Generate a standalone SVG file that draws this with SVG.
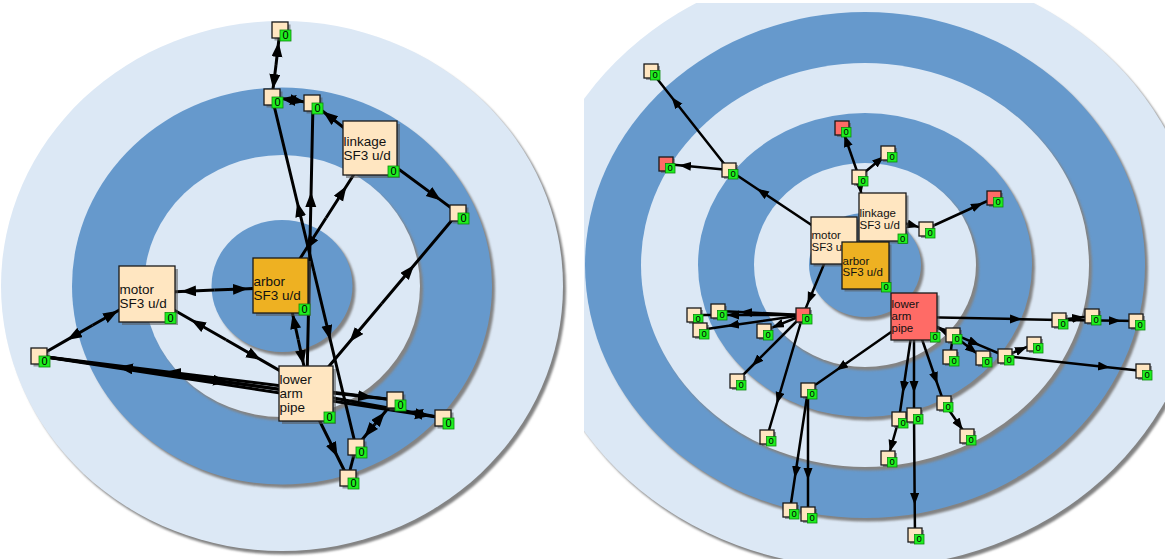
<svg xmlns="http://www.w3.org/2000/svg" width="1165" height="559" viewBox="0 0 1165 559">
<style>
.lt{fill:#dce8f5}
.dk{fill:#6699cc}
.rs{fill:#838383;filter:url(#sb)}
.s{fill:#555;opacity:.55}
.nb{fill:#ffe6c1;stroke:#1a1a1a;stroke-width:1.3}
.or{fill:#eeb122;stroke:#1a1a1a;stroke-width:1.3}
.rd{fill:#ff6b66;stroke:#1a1a1a;stroke-width:1.3}
.bg{fill:#1fee1f;stroke:#0c8a0c;stroke-width:.8}
.z1{font-family:"Liberation Sans",Arial,sans-serif;font-size:11px;text-anchor:middle;fill:#000}
.z2{font-family:"Liberation Sans",Arial,sans-serif;font-size:9.5px;text-anchor:middle;fill:#000}
.t1{font-family:"Liberation Sans",Arial,sans-serif;font-size:13.5px;fill:#111}
.t2{font-family:"Liberation Sans",Arial,sans-serif;font-size:11.5px;fill:#111}
.e{fill:none;stroke:#000;stroke-width:3;marker-mid:url(#hl)}
.e2{fill:none;stroke:#000;stroke-width:2.5;marker-mid:url(#hr)}
.p2{fill:none;stroke:#000;stroke-width:2.5}
.p1{fill:none;stroke:#000;stroke-width:3}
</style>
<defs>
<filter id="sb" x="-5%" y="-5%" width="110%" height="110%"><feGaussianBlur stdDeviation="1.3"/></filter>
<clipPath id="rc"><rect x="584" y="3" width="581" height="556"/></clipPath>
<marker id="hl" markerUnits="userSpaceOnUse" markerWidth="16" markerHeight="12" refX="15" refY="5.5" orient="auto"><path d="M0,0 L15,5.5 L0,11 z" fill="#000"/></marker>
<marker id="hr" markerUnits="userSpaceOnUse" markerWidth="13" markerHeight="10" refX="12" refY="4.5" orient="auto"><path d="M0,0 L12,4.5 L0,9 z" fill="#000"/></marker>
</defs>
<rect width="1165" height="559" fill="#fff"/>
<g id="rings-left">
<ellipse class="rs" cx="285" cy="289.5" rx="281" ry="265"/>
<ellipse class="lt" cx="282" cy="286" rx="281" ry="265"/>
<ellipse class="rs" cx="285" cy="289.5" rx="210" ry="198.5"/>
<ellipse class="dk" cx="282" cy="286" rx="210" ry="198.5"/>
<ellipse class="rs" cx="285" cy="289.5" rx="138" ry="131"/>
<ellipse class="lt" cx="282" cy="286" rx="138" ry="131"/>
<ellipse class="rs" cx="285" cy="289.5" rx="70.5" ry="66"/>
<ellipse class="dk" cx="282" cy="286" rx="70.5" ry="66"/>
</g>
<g id="rings-right" clip-path="url(#rc)">
<ellipse class="rs" cx="868" cy="268.5" rx="336" ry="303"/>
<ellipse class="lt" cx="865" cy="265" rx="336" ry="303"/>
<ellipse class="rs" cx="868" cy="268.5" rx="280" ry="253"/>
<ellipse class="dk" cx="865" cy="265" rx="280" ry="253"/>
<ellipse class="rs" cx="868" cy="268.5" rx="224" ry="202"/>
<ellipse class="lt" cx="865" cy="265" rx="224" ry="202"/>
<ellipse class="rs" cx="868" cy="268.5" rx="167" ry="152"/>
<ellipse class="dk" cx="865" cy="265" rx="167" ry="152"/>
<ellipse class="rs" cx="868" cy="268.5" rx="111" ry="102"/>
<ellipse class="lt" cx="865" cy="265" rx="111" ry="102"/>
<ellipse class="rs" cx="868" cy="268.5" rx="56" ry="52"/>
<ellipse class="dk" cx="865" cy="265" rx="56" ry="52"/>
</g>
<g id="connectors">
<path class="e" d="M276,65 L278.6,42 L280,30"/>
<path class="e" d="M276,65 L273,89 L272,97"/>
<path class="e" d="M293,100 L281,98.4 L272,97"/>
<path class="e" d="M293,100 L305,101.9 L312,103"/>
<path class="e" d="M370,148 L323,111.5 L312,103"/>
<path class="e" d="M370,148 L441,200.4 L458,213"/>
<path class="e" d="M381.8,303.5 L414.2,265 L458,213"/>
<path class="e" d="M381.8,303.5 L349.4,342 L306,393.5"/>
<path class="e" d="M313.8,271 L297.2,202 L272,97"/>
<path class="e" d="M313.8,271 L330.3,340 L356,447"/>
<path class="e" d="M307,380 L311.1,192 L313,103"/>
<path class="e" d="M326,218 L346.5,186 L358,168"/>
<path class="e" d="M326,218 L305.5,250 L287,279"/>
<path class="e" d="M214.5,290.1 L181,291.6 L150,293"/>
<path class="e" d="M214.5,290.1 L248,288.7 L275,287.6"/>
<path class="e" d="M92.5,325.3 L67,339.9 L39,356"/>
<path class="e" d="M92.5,325.3 L118,310.7 L147,294"/>
<path class="e" d="M226,339.8 L191,319.8 L147,294.5"/>
<path class="e" d="M226,339.8 L261,359.9 L306,385.8"/>
<path class="e" d="M39,356 L228,382.2 L306,393"/>
<path class="e" d="M306,393 L118,366.9 L39,356"/>
<path class="e" d="M395,400 L166,371.7 L39,356"/>
<path class="e" d="M39,356 L430,416 L443,418"/>
<path class="e" d="M306,390 L373,397.5 L395,400"/>
<path class="e" d="M443,418 L408,411.6 L306,393"/>
<path class="e" d="M374.7,424.5 L385,412 L395,400"/>
<path class="e" d="M374.7,424.5 L364.3,437 L356,447"/>
<path class="e" d="M306,393.5 L337.6,457 L348,478"/>
<path class="p1" d="M356,447 L348,478"/>
<path class="e" d="M298.2,339.5 L292.6,314 L287.7,290"/>
<path class="e" d="M298.2,339.5 L303.7,365 L307,380"/>
<path class="e2" d="M729,170 L671.5,97 L651,71"/>
<path class="e2" d="M729,170 L679,165.2 L666,164"/>
<path class="e2" d="M834,240 L757,188.7 L729,170"/>
<path class="e2" d="M859,177 L844.4,135 L842,128"/>
<path class="e2" d="M859,177 L884,156.3 L888,153"/>
<path class="e2" d="M859,177 L861.2,194 L862,200"/>
<path class="e2" d="M882.5,217 L919,227.1 L926,229"/>
<path class="e2" d="M926,229 L983,203 L994,198"/>
<path class="e2" d="M834,240 L807.5,304 L803,315"/>
<path class="e2" d="M803,315 L727,315 L694,315"/>
<path class="e2" d="M803,315 L740,312 L718,311"/>
<path class="e2" d="M803,315 L727,326 L700,330"/>
<path class="e2" d="M803,315 L772,327.7 L764,331"/>
<path class="e2" d="M803,315 L752,366 L737,381"/>
<path class="e2" d="M803,315 L776.7,404 L767,437"/>
<path class="e2" d="M914,316 L836,370.5 L808,390"/>
<path class="e2" d="M808,390 L794.8,478 L790,510"/>
<path class="e2" d="M808,390 L808,480 L808,514"/>
<path class="e2" d="M914,316 L902.8,393 L899,419"/>
<path class="e2" d="M914,316 L914,393 L914,415"/>
<path class="e2" d="M899,419 L889.7,452 L888,458"/>
<path class="e2" d="M914,415 L914.7,505 L915,535"/>
<path class="e2" d="M914,316 L937.4,384 L944,403"/>
<path class="e2" d="M944,403 L962.8,430 L967,436"/>
<path class="e2" d="M914,317 L1022,319.2 L1059,320"/>
<path class="e2" d="M1059,320 L1084,317 L1092,316"/>
<path class="e2" d="M1059,320 L1121,320.8 L1136,321"/>
<path class="e2" d="M953,335 L938,328.1 L914,317"/>
<path class="e2" d="M914,317 L980,345.3 L1005,356"/>
<path class="e2" d="M953,335 L977,353.4 L983,358"/>
<path class="e2" d="M1005,356 L1027,346.9 L1034,344"/>
<path class="e2" d="M1005,356 L1110,367.4 L1143,371"/>
<path class="p2" d="M953,335 L950,357"/>
</g>
<g id="L-motor"><rect class="s" x="122" y="269" width="56" height="56"/><rect class="nb" x="119" y="266" width="56" height="56"/><text class="t1" x="119.5" y="293.5">motor</text><text class="t1" x="119.5" y="307.5">SF3 u/d</text><rect class="bg" x="165" y="312.5" width="11" height="11"/><text class="z1" x="170.5" y="321.8">0</text></g>
<g id="L-arbor"><rect class="s" x="256" y="261" width="55" height="55"/><rect class="or" x="253" y="258" width="55" height="55"/><text class="t1" x="253.5" y="285.5">arbor</text><text class="t1" x="253.5" y="299.5">SF3 u/d</text><rect class="bg" x="299" y="304" width="11" height="11"/><text class="z1" x="304.5" y="313.3">0</text></g>
<g id="L-linkage"><rect class="s" x="346" y="124" width="54" height="54"/><rect class="nb" x="343" y="121" width="54" height="54"/><text class="t1" x="343.5" y="145.5">linkage</text><text class="t1" x="343.5" y="159.5">SF3 u/d</text><rect class="bg" x="388" y="166" width="11" height="11"/><text class="z1" x="393.5" y="175.3">0</text></g>
<g id="L-lowerarmpipe"><rect class="s" x="282" y="369" width="54" height="55"/><rect class="nb" x="279" y="366" width="54" height="55"/><text class="t1" x="279.5" y="384">lower</text><text class="t1" x="279.5" y="398">arm</text><text class="t1" x="279.5" y="412">pipe</text><rect class="bg" x="324" y="412" width="11" height="11"/><text class="z1" x="329.5" y="421.3">0</text></g>
<g id="L-n1"><rect class="s" x="274.5" y="24.5" width="16" height="16"/><rect class="nb" x="272" y="22" width="16" height="16"/><rect class="bg" x="280" y="30" width="11" height="11"/><text class="z1" x="285.5" y="39.3">0</text></g>
<g id="L-n2"><rect class="s" x="266.5" y="91.5" width="16" height="16"/><rect class="nb" x="264" y="89" width="16" height="16"/><rect class="bg" x="272" y="97" width="11" height="11"/><text class="z1" x="277.5" y="106.3">0</text></g>
<g id="L-n3"><rect class="s" x="306.5" y="97.5" width="16" height="16"/><rect class="nb" x="304" y="95" width="16" height="16"/><rect class="bg" x="312" y="103" width="11" height="11"/><text class="z1" x="317.5" y="112.3">0</text></g>
<g id="L-n4"><rect class="s" x="452.5" y="207.5" width="16" height="16"/><rect class="nb" x="450" y="205" width="16" height="16"/><rect class="bg" x="458" y="213" width="11" height="11"/><text class="z1" x="463.5" y="222.3">0</text></g>
<g id="L-n5"><rect class="s" x="33.5" y="350.5" width="16" height="16"/><rect class="nb" x="31" y="348" width="16" height="16"/><rect class="bg" x="39" y="356" width="11" height="11"/><text class="z1" x="44.5" y="365.3">0</text></g>
<g id="L-n6"><rect class="s" x="389.5" y="394.5" width="16" height="16"/><rect class="nb" x="387" y="392" width="16" height="16"/><rect class="bg" x="395" y="400" width="11" height="11"/><text class="z1" x="400.5" y="409.3">0</text></g>
<g id="L-n7"><rect class="s" x="437.5" y="412.5" width="16" height="16"/><rect class="nb" x="435" y="410" width="16" height="16"/><rect class="bg" x="443" y="418" width="11" height="11"/><text class="z1" x="448.5" y="427.3">0</text></g>
<g id="L-n8"><rect class="s" x="350.5" y="441.5" width="16" height="16"/><rect class="nb" x="348" y="439" width="16" height="16"/><rect class="bg" x="356" y="447" width="11" height="11"/><text class="z1" x="361.5" y="456.3">0</text></g>
<g id="L-n9"><rect class="s" x="342.5" y="472.5" width="16" height="16"/><rect class="nb" x="340" y="470" width="16" height="16"/><rect class="bg" x="348" y="478" width="11" height="11"/><text class="z1" x="353.5" y="487.3">0</text></g>
<g id="R-motor"><rect class="s" x="813.5" y="219.5" width="46" height="47"/><rect class="nb" x="811" y="217" width="46" height="47"/><text class="t2" x="811.5" y="239.3">motor</text><text class="t2" x="811.5" y="250.8">SF3 u/d</text></g>
<g id="R-linkage"><rect class="s" x="861.5" y="195.5" width="47" height="48"/><rect class="nb" x="859" y="193" width="47" height="48"/><text class="t2" x="859.5" y="216.7">linkage</text><text class="t2" x="859.5" y="229.3">SF3 u/d</text><rect class="bg" x="898" y="234" width="9.5" height="9.5"/><text class="z2" x="902.75" y="241.9">0</text></g>
<g id="R-arbor"><rect class="s" x="844.5" y="244.5" width="47" height="47"/><rect class="or" x="842" y="242" width="47" height="47"/><text class="t2" x="842.5" y="264.6">arbor</text><text class="t2" x="842.5" y="276.3">SF3 u/d</text><rect class="bg" x="881.5" y="282.5" width="9.5" height="9.5"/><text class="z2" x="886.25" y="290.4">0</text></g>
<g id="R-lowerarmpipe"><rect class="s" x="893.5" y="295.5" width="46" height="47"/><rect class="rd" x="891" y="293" width="46" height="47"/><text class="t2" x="891.5" y="308.3">lower</text><text class="t2" x="891.5" y="320">arm</text><text class="t2" x="891.5" y="331.7">pipe</text><rect class="bg" x="930.5" y="332.5" width="9.5" height="9.5"/><text class="z2" x="935.25" y="340.4">0</text></g>
<g id="R-p1"><rect class="s" x="646" y="66" width="14" height="14"/><rect class="nb" x="644" y="64" width="14" height="14"/><rect class="bg" x="650.5" y="70.5" width="9.5" height="9.5"/><text class="z2" x="655.25" y="78.4">0</text></g>
<g id="R-p2"><rect class="s" x="661" y="159" width="14" height="14"/><rect class="rd" x="659" y="157" width="14" height="14"/><rect class="bg" x="665.5" y="163.5" width="9.5" height="9.5"/><text class="z2" x="670.25" y="171.4">0</text></g>
<g id="R-p3"><rect class="s" x="724" y="165" width="14" height="14"/><rect class="nb" x="722" y="163" width="14" height="14"/><rect class="bg" x="728.5" y="169.5" width="9.5" height="9.5"/><text class="z2" x="733.25" y="177.4">0</text></g>
<g id="R-p4"><rect class="s" x="837" y="123" width="14" height="14"/><rect class="rd" x="835" y="121" width="14" height="14"/><rect class="bg" x="841.5" y="127.5" width="9.5" height="9.5"/><text class="z2" x="846.25" y="135.4">0</text></g>
<g id="R-p5"><rect class="s" x="883" y="148" width="14" height="14"/><rect class="nb" x="881" y="146" width="14" height="14"/><rect class="bg" x="887.5" y="152.5" width="9.5" height="9.5"/><text class="z2" x="892.25" y="160.4">0</text></g>
<g id="R-p6"><rect class="s" x="854" y="172" width="14" height="14"/><rect class="nb" x="852" y="170" width="14" height="14"/><rect class="bg" x="858.5" y="176.5" width="9.5" height="9.5"/><text class="z2" x="863.25" y="184.4">0</text></g>
<g id="R-p7"><rect class="s" x="921" y="224" width="14" height="14"/><rect class="nb" x="919" y="222" width="14" height="14"/><rect class="bg" x="925.5" y="228.5" width="9.5" height="9.5"/><text class="z2" x="930.25" y="236.4">0</text></g>
<g id="R-p8"><rect class="s" x="989" y="193" width="14" height="14"/><rect class="rd" x="987" y="191" width="14" height="14"/><rect class="bg" x="993.5" y="197.5" width="9.5" height="9.5"/><text class="z2" x="998.25" y="205.4">0</text></g>
<g id="R-q0"><rect class="s" x="798" y="310" width="14" height="14"/><rect class="rd" x="796" y="308" width="14" height="14"/><rect class="bg" x="802.5" y="314.5" width="9.5" height="9.5"/><text class="z2" x="807.25" y="322.4">0</text></g>
<g id="R-q1"><rect class="s" x="689" y="310" width="14" height="14"/><rect class="nb" x="687" y="308" width="14" height="14"/><rect class="bg" x="693.5" y="314.5" width="9.5" height="9.5"/><text class="z2" x="698.25" y="322.4">0</text></g>
<g id="R-q2"><rect class="s" x="713" y="306" width="14" height="14"/><rect class="nb" x="711" y="304" width="14" height="14"/><rect class="bg" x="717.5" y="310.5" width="9.5" height="9.5"/><text class="z2" x="722.25" y="318.4">0</text></g>
<g id="R-q3"><rect class="s" x="695" y="325" width="14" height="14"/><rect class="nb" x="693" y="323" width="14" height="14"/><rect class="bg" x="699.5" y="329.5" width="9.5" height="9.5"/><text class="z2" x="704.25" y="337.4">0</text></g>
<g id="R-q4"><rect class="s" x="759" y="326" width="14" height="14"/><rect class="nb" x="757" y="324" width="14" height="14"/><rect class="bg" x="763.5" y="330.5" width="9.5" height="9.5"/><text class="z2" x="768.25" y="338.4">0</text></g>
<g id="R-q5"><rect class="s" x="732" y="376" width="14" height="14"/><rect class="nb" x="730" y="374" width="14" height="14"/><rect class="bg" x="736.5" y="380.5" width="9.5" height="9.5"/><text class="z2" x="741.25" y="388.4">0</text></g>
<g id="R-q6"><rect class="s" x="803" y="385" width="14" height="14"/><rect class="nb" x="801" y="383" width="14" height="14"/><rect class="bg" x="807.5" y="389.5" width="9.5" height="9.5"/><text class="z2" x="812.25" y="397.4">0</text></g>
<g id="R-q8"><rect class="s" x="762" y="432" width="14" height="14"/><rect class="nb" x="760" y="430" width="14" height="14"/><rect class="bg" x="766.5" y="436.5" width="9.5" height="9.5"/><text class="z2" x="771.25" y="444.4">0</text></g>
<g id="R-q9"><rect class="s" x="785" y="505" width="14" height="14"/><rect class="nb" x="783" y="503" width="14" height="14"/><rect class="bg" x="789.5" y="509.5" width="9.5" height="9.5"/><text class="z2" x="794.25" y="517.4">0</text></g>
<g id="R-q10"><rect class="s" x="803" y="509" width="14" height="14"/><rect class="nb" x="801" y="507" width="14" height="14"/><rect class="bg" x="807.5" y="513.5" width="9.5" height="9.5"/><text class="z2" x="812.25" y="521.4">0</text></g>
<g id="R-r1"><rect class="s" x="894" y="414" width="14" height="14"/><rect class="nb" x="892" y="412" width="14" height="14"/><rect class="bg" x="898.5" y="418.5" width="9.5" height="9.5"/><text class="z2" x="903.25" y="426.4">0</text></g>
<g id="R-r2"><rect class="s" x="909" y="410" width="14" height="14"/><rect class="nb" x="907" y="408" width="14" height="14"/><rect class="bg" x="913.5" y="414.5" width="9.5" height="9.5"/><text class="z2" x="918.25" y="422.4">0</text></g>
<g id="R-r3"><rect class="s" x="883" y="453" width="14" height="14"/><rect class="nb" x="881" y="451" width="14" height="14"/><rect class="bg" x="887.5" y="457.5" width="9.5" height="9.5"/><text class="z2" x="892.25" y="465.4">0</text></g>
<g id="R-r4"><rect class="s" x="910" y="530" width="14" height="14"/><rect class="nb" x="908" y="528" width="14" height="14"/><rect class="bg" x="914.5" y="534.5" width="9.5" height="9.5"/><text class="z2" x="919.25" y="542.4">0</text></g>
<g id="R-r5"><rect class="s" x="939" y="398" width="14" height="14"/><rect class="nb" x="937" y="396" width="14" height="14"/><rect class="bg" x="943.5" y="402.5" width="9.5" height="9.5"/><text class="z2" x="948.25" y="410.4">0</text></g>
<g id="R-r6"><rect class="s" x="962" y="431" width="14" height="14"/><rect class="nb" x="960" y="429" width="14" height="14"/><rect class="bg" x="966.5" y="435.5" width="9.5" height="9.5"/><text class="z2" x="971.25" y="443.4">0</text></g>
<g id="R-s1"><rect class="s" x="948" y="330" width="14" height="14"/><rect class="nb" x="946" y="328" width="14" height="14"/><rect class="bg" x="952.5" y="334.5" width="9.5" height="9.5"/><text class="z2" x="957.25" y="342.4">0</text></g>
<g id="R-s2"><rect class="s" x="945" y="352" width="14" height="14"/><rect class="nb" x="943" y="350" width="14" height="14"/><rect class="bg" x="949.5" y="356.5" width="9.5" height="9.5"/><text class="z2" x="954.25" y="364.4">0</text></g>
<g id="R-s3"><rect class="s" x="978" y="353" width="14" height="14"/><rect class="nb" x="976" y="351" width="14" height="14"/><rect class="bg" x="982.5" y="357.5" width="9.5" height="9.5"/><text class="z2" x="987.25" y="365.4">0</text></g>
<g id="R-s4"><rect class="s" x="1000" y="351" width="14" height="14"/><rect class="nb" x="998" y="349" width="14" height="14"/><rect class="bg" x="1004.5" y="355.5" width="9.5" height="9.5"/><text class="z2" x="1009.25" y="363.4">0</text></g>
<g id="R-s5"><rect class="s" x="1029" y="339" width="14" height="14"/><rect class="nb" x="1027" y="337" width="14" height="14"/><rect class="bg" x="1033.5" y="343.5" width="9.5" height="9.5"/><text class="z2" x="1038.25" y="351.4">0</text></g>
<g id="R-s6"><rect class="s" x="1054" y="315" width="14" height="14"/><rect class="nb" x="1052" y="313" width="14" height="14"/><rect class="bg" x="1058.5" y="319.5" width="9.5" height="9.5"/><text class="z2" x="1063.25" y="327.4">0</text></g>
<g id="R-s7"><rect class="s" x="1087" y="311" width="14" height="14"/><rect class="nb" x="1085" y="309" width="14" height="14"/><rect class="bg" x="1091.5" y="315.5" width="9.5" height="9.5"/><text class="z2" x="1096.25" y="323.4">0</text></g>
<g id="R-s8"><rect class="s" x="1131" y="316" width="14" height="14"/><rect class="nb" x="1129" y="314" width="14" height="14"/><rect class="bg" x="1135.5" y="320.5" width="9.5" height="9.5"/><text class="z2" x="1140.25" y="328.4">0</text></g>
<g id="R-s9"><rect class="s" x="1138" y="366" width="14" height="14"/><rect class="nb" x="1136" y="364" width="14" height="14"/><rect class="bg" x="1142.5" y="370.5" width="9.5" height="9.5"/><text class="z2" x="1147.25" y="378.4">0</text></g>
</svg>
